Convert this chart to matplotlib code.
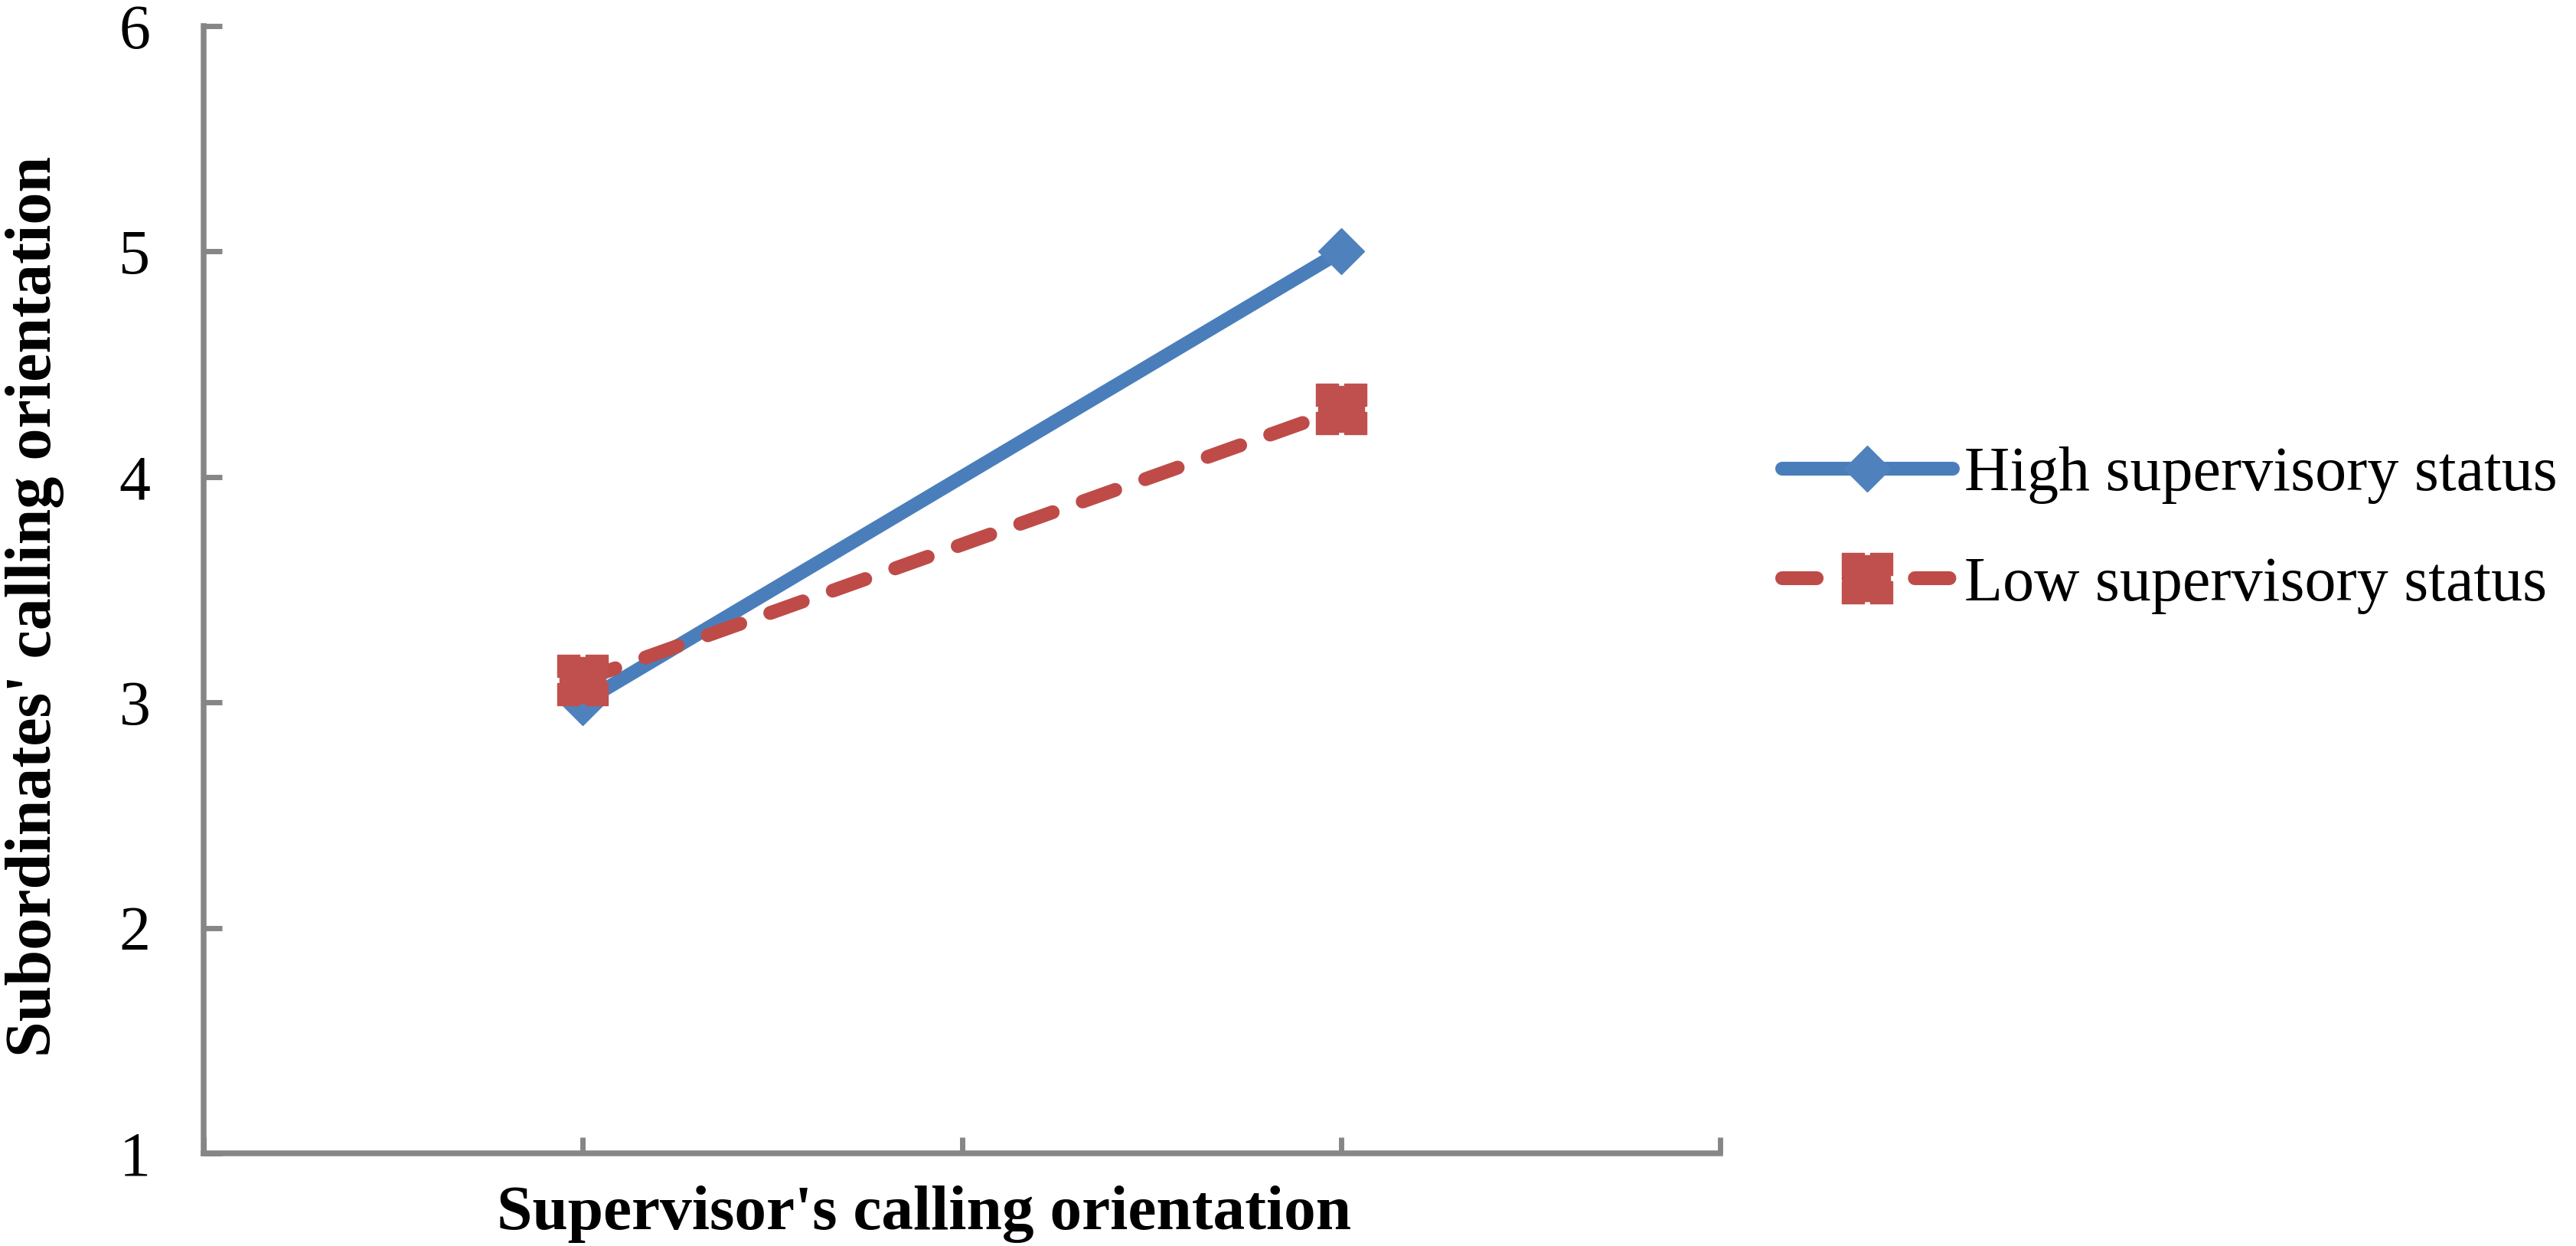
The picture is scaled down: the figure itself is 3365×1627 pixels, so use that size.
import matplotlib
matplotlib.use("Agg")
import matplotlib.pyplot as plt
import numpy as np
from matplotlib.path import Path

# ---- data ----
categories = ["Low", "High"]
high_status = [3.0, 5.0]
low_status = [3.1, 4.3]
series_labels = ["High supervisory status", "Low supervisory status"]
y_ticks = [1, 2, 3, 4, 5, 6]
x_label = "Supervisor's calling orientation"
y_label = "Subordinates' calling orientation"

plt.rcParams['font.family'] = ['Liberation Serif', 'DejaVu Serif']

W, H = 3365, 1627
DPI = 100
fig = plt.figure(figsize=(W / DPI, H / DPI), dpi=DPI)
ax = fig.add_axes([266 / W, 1 - 1506 / H, (2247 - 266) / W, (1506 - 34) / H])

blue = "#4A7EBB"
blue_m = "#4F81BD"
red = "#BE4B48"
red_m = "#C0504D"
gray = "#868686"

# notched square marker
w, d = 0.12, 0.09
verts = [(-1, -1), (-w, -1), (-w, -1 + d), (w, -1 + d), (w, -1), (1, -1),
         (1, -w), (1 - d, -w), (1 - d, w), (1, w), (1, 1),
         (w, 1), (w, 1 - d), (-w, 1 - d), (-w, 1), (-1, 1),
         (-1, w), (-1 + d, w), (-1 + d, -w), (-1, -w), (-1, -1)]
notched = Path(verts, closed=True)

x = np.arange(len(categories))
ax.plot(x, high_status, color=blue, lw=13, solid_capstyle='round',
        marker='D', ms=31, mfc=blue_m, mec=blue_m, mew=1,
        label=series_labels[0], zorder=3)
ax.plot(x, low_status, color=red, lw=13, dashes=(2.5, 2.3),
        dash_capstyle='round', marker=notched, ms=47, mfc=red_m, mec=red_m,
        mew=1, label=series_labels[1], zorder=4)

ax.set_xlim(-0.5, len(categories) - 0.5)
ax.set_ylim(1, 6)
ax.set_yticks(y_ticks)
ax.set_yticklabels([str(t) for t in y_ticks])
ax.set_xticks(np.arange(-0.5, len(categories) - 0.5 + 0.01, 0.5))
ax.set_xticklabels([])

for s in ['top', 'right']:
    ax.spines[s].set_visible(False)
for s in ['left', 'bottom']:
    ax.spines[s].set_color(gray)
    ax.spines[s].set_linewidth(5.4)
    ax.spines[s].set_capstyle('projecting')

ax.tick_params(axis='y', direction='in', length=17, width=5, color=gray,
               labelsize=59, pad=50, labelcolor='black')
ax.tick_params(axis='x', direction='in', length=15, width=5, color=gray)

fig.text(1207 / W, 1 - 1605 / H, x_label, ha='center', va='baseline',
         fontsize=60, fontweight='bold')
fig.text(46 / W, 1 - 792 / H, y_label, ha='center', va='center',
         rotation=90, fontsize=60.5, fontweight='bold')

leg = ax.legend(loc='upper left', bbox_to_anchor=(2328 / W, 1 - 583 / H),
                bbox_transform=fig.transFigure, frameon=False,
                fontsize=59, borderpad=0, borderaxespad=0,
                handlelength=2.72, handletextpad=0.18, labelspacing=0.83)

fig.savefig("out.png", dpi=DPI)
